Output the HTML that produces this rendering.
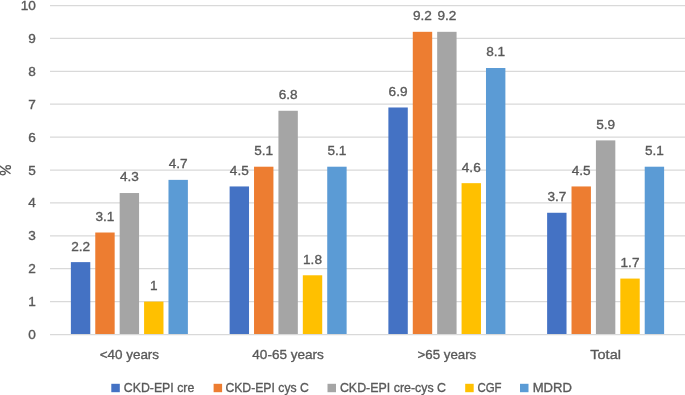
<!DOCTYPE html>
<html><head><meta charset="utf-8"><style>
html,body{margin:0;padding:0;background:#fff;}
body{width:685px;height:395px;overflow:hidden;}
svg{display:block;will-change:transform;font-family:"Liberation Sans",sans-serif;}
text{fill:#595959;stroke:#595959;stroke-width:0.35px;}
</style></head><body>
<svg width="685" height="395" viewBox="0 0 685 395">
<rect width="685" height="395" fill="#fff"/>
<line x1="50.0" y1="334.70" x2="685.0" y2="334.70" stroke="#D9D9D9" stroke-width="1.25"/>
<line x1="50.0" y1="301.60" x2="685.0" y2="301.60" stroke="#D9D9D9" stroke-width="1.25"/>
<line x1="50.0" y1="268.70" x2="685.0" y2="268.70" stroke="#D9D9D9" stroke-width="1.25"/>
<line x1="50.0" y1="235.80" x2="685.0" y2="235.80" stroke="#D9D9D9" stroke-width="1.25"/>
<line x1="50.0" y1="202.90" x2="685.0" y2="202.90" stroke="#D9D9D9" stroke-width="1.25"/>
<line x1="50.0" y1="170.00" x2="685.0" y2="170.00" stroke="#D9D9D9" stroke-width="1.25"/>
<line x1="50.0" y1="137.10" x2="685.0" y2="137.10" stroke="#D9D9D9" stroke-width="1.25"/>
<line x1="50.0" y1="104.20" x2="685.0" y2="104.20" stroke="#D9D9D9" stroke-width="1.25"/>
<line x1="50.0" y1="71.30" x2="685.0" y2="71.30" stroke="#D9D9D9" stroke-width="1.25"/>
<line x1="50.0" y1="38.40" x2="685.0" y2="38.40" stroke="#D9D9D9" stroke-width="1.25"/>
<line x1="50.0" y1="5.50" x2="685.0" y2="5.50" stroke="#D9D9D9" stroke-width="1.25"/>
<text x="35.8" y="339.00" text-anchor="end" font-size="13.6">0</text>
<text x="35.8" y="306.10" text-anchor="end" font-size="13.6">1</text>
<text x="35.8" y="273.20" text-anchor="end" font-size="13.6">2</text>
<text x="35.8" y="240.30" text-anchor="end" font-size="13.6">3</text>
<text x="35.8" y="207.40" text-anchor="end" font-size="13.6">4</text>
<text x="35.8" y="174.50" text-anchor="end" font-size="13.6">5</text>
<text x="35.8" y="141.60" text-anchor="end" font-size="13.6">6</text>
<text x="35.8" y="108.70" text-anchor="end" font-size="13.6">7</text>
<text x="35.8" y="75.80" text-anchor="end" font-size="13.6">8</text>
<text x="35.8" y="42.90" text-anchor="end" font-size="13.6">9</text>
<text x="35.8" y="10.00" text-anchor="end" font-size="13.6">10</text>
<rect x="70.88" y="262.12" width="19.4" height="71.88" fill="#4472C4"/>
<text x="80.58" y="250.52" text-anchor="middle" font-size="13.6">2.2</text>
<rect x="95.27" y="232.51" width="19.4" height="101.49" fill="#ED7D31"/>
<text x="104.97" y="220.91" text-anchor="middle" font-size="13.6">3.1</text>
<rect x="119.67" y="193.03" width="19.4" height="140.97" fill="#A5A5A5"/>
<text x="129.38" y="181.43" text-anchor="middle" font-size="13.6">4.3</text>
<rect x="144.08" y="301.60" width="19.4" height="32.40" fill="#FFC000"/>
<text x="153.78" y="290.00" text-anchor="middle" font-size="13.6">1</text>
<rect x="168.48" y="179.87" width="19.4" height="154.13" fill="#5B9BD5"/>
<text x="178.18" y="168.27" text-anchor="middle" font-size="13.6">4.7</text>
<text x="129.38" y="358.8" text-anchor="middle" font-size="13.6" textLength="59.4" lengthAdjust="spacingAndGlyphs">&lt;40 years</text>
<rect x="229.62" y="186.45" width="19.4" height="147.55" fill="#4472C4"/>
<text x="239.32" y="174.85" text-anchor="middle" font-size="13.6">4.5</text>
<rect x="254.03" y="166.71" width="19.4" height="167.29" fill="#ED7D31"/>
<text x="263.73" y="155.11" text-anchor="middle" font-size="13.6">5.1</text>
<rect x="278.43" y="110.78" width="19.4" height="223.22" fill="#A5A5A5"/>
<text x="288.12" y="99.18" text-anchor="middle" font-size="13.6">6.8</text>
<rect x="302.82" y="275.28" width="19.4" height="58.72" fill="#FFC000"/>
<text x="312.52" y="263.68" text-anchor="middle" font-size="13.6">1.8</text>
<rect x="327.23" y="166.71" width="19.4" height="167.29" fill="#5B9BD5"/>
<text x="336.93" y="155.11" text-anchor="middle" font-size="13.6">5.1</text>
<text x="288.12" y="358.8" text-anchor="middle" font-size="13.6" textLength="71.6" lengthAdjust="spacingAndGlyphs">40-65 years</text>
<rect x="388.38" y="107.49" width="19.4" height="226.51" fill="#4472C4"/>
<text x="398.07" y="95.89" text-anchor="middle" font-size="13.6">6.9</text>
<rect x="412.78" y="31.82" width="19.4" height="302.18" fill="#ED7D31"/>
<text x="422.48" y="20.22" text-anchor="middle" font-size="13.6">9.2</text>
<rect x="437.18" y="31.82" width="19.4" height="302.18" fill="#A5A5A5"/>
<text x="446.88" y="20.22" text-anchor="middle" font-size="13.6">9.2</text>
<rect x="461.57" y="183.16" width="19.4" height="150.84" fill="#FFC000"/>
<text x="471.27" y="171.56" text-anchor="middle" font-size="13.6">4.6</text>
<rect x="485.98" y="68.01" width="19.4" height="265.99" fill="#5B9BD5"/>
<text x="495.68" y="56.41" text-anchor="middle" font-size="13.6">8.1</text>
<text x="446.88" y="358.8" text-anchor="middle" font-size="13.6" textLength="58.8" lengthAdjust="spacingAndGlyphs">&gt;65 years</text>
<rect x="547.12" y="212.77" width="19.4" height="121.23" fill="#4472C4"/>
<text x="556.83" y="201.17" text-anchor="middle" font-size="13.6">3.7</text>
<rect x="571.52" y="186.45" width="19.4" height="147.55" fill="#ED7D31"/>
<text x="581.23" y="174.85" text-anchor="middle" font-size="13.6">4.5</text>
<rect x="595.92" y="140.39" width="19.4" height="193.61" fill="#A5A5A5"/>
<text x="605.62" y="128.79" text-anchor="middle" font-size="13.6">5.9</text>
<rect x="620.32" y="278.57" width="19.4" height="55.43" fill="#FFC000"/>
<text x="630.02" y="266.97" text-anchor="middle" font-size="13.6">1.7</text>
<rect x="644.72" y="166.71" width="19.4" height="167.29" fill="#5B9BD5"/>
<text x="654.42" y="155.11" text-anchor="middle" font-size="13.6">5.1</text>
<text x="605.62" y="358.8" text-anchor="middle" font-size="13.6" textLength="30.6" lengthAdjust="spacingAndGlyphs">Total</text>
<rect x="111.3" y="383.8" width="8.5" height="8.4" fill="#4472C4"/>
<text x="123.8" y="392.2" font-size="13.5" textLength="70.5" lengthAdjust="spacingAndGlyphs">CKD-EPI cre</text>
<rect x="213.6" y="383.8" width="8.5" height="8.4" fill="#ED7D31"/>
<text x="225.4" y="392.2" font-size="13.5" textLength="83.4" lengthAdjust="spacingAndGlyphs">CKD-EPI cys C</text>
<rect x="327.5" y="383.8" width="8.5" height="8.4" fill="#A5A5A5"/>
<text x="339.9" y="392.2" font-size="13.5" textLength="106.2" lengthAdjust="spacingAndGlyphs">CKD-EPI cre-cys C</text>
<rect x="465.2" y="383.8" width="8.5" height="8.4" fill="#FFC000"/>
<text x="477.5" y="392.2" font-size="13.5" textLength="24.1" lengthAdjust="spacingAndGlyphs">CGF</text>
<rect x="520.0" y="383.8" width="8.5" height="8.4" fill="#5B9BD5"/>
<text x="532.7" y="392.2" font-size="13.5" textLength="39.2" lengthAdjust="spacingAndGlyphs">MDRD</text>
<g fill="none" stroke="#595959" stroke-width="1.25"><ellipse cx="8.2" cy="167.25" rx="2.3" ry="1.65"/><ellipse cx="2.7" cy="173.05" rx="2.6" ry="1.7"/><line x1="-1" y1="165.4" x2="10.5" y2="173.7"/></g>
</svg>
</body></html>
